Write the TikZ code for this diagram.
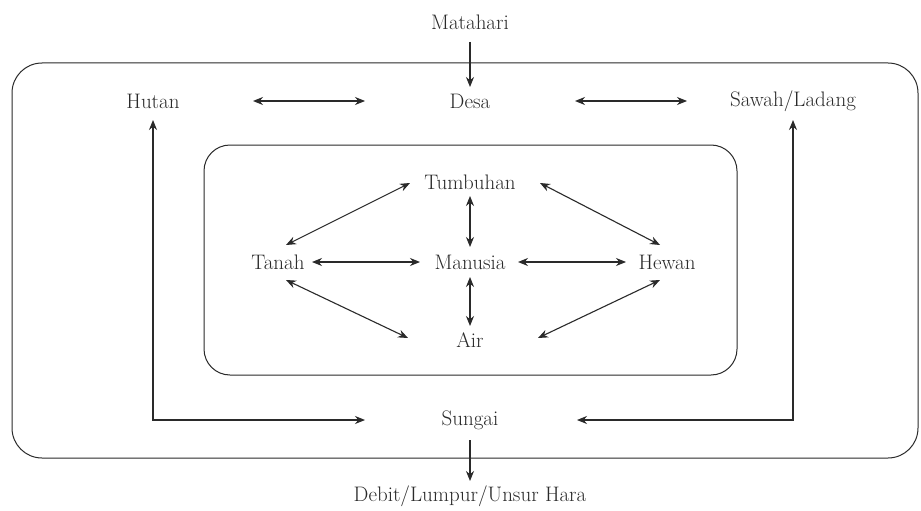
\documentclass[tikz,border=0pt]{standalone}
\usetikzlibrary{arrows.meta}
\definecolor{ink}{HTML}{2A2A2A}
\begin{document}
\begin{tikzpicture}[x=1pt,y=-1pt,
  lab/.style={font=\fontsize{21}{24}\selectfont, inner sep=0pt, text=ink},
  tip/.tip={Stealth[length=10pt,width=8pt]},
  dar/.style={{tip}-{tip}, line width=1.1pt, draw=ink},
  sar/.style={-{tip}, line width=1.1pt, draw=ink},
  box/.style={draw=ink, line width=1pt}]
\useasboundingbox (0,0) rectangle (921,511);
\fill[white] (0,0) rectangle (921,511);
\draw[box, rounded corners=30pt] (12,63) rectangle (918,458);
\draw[box, rounded corners=26pt] (204,145) rectangle (737,375);
% nodes
\node[lab] (mat) at (470,22) {Matahari};
\node[lab] (desa) at (470,101) {Desa};
\node[lab] (hutan) at (153,101) {Hutan};
\node[lab] (sawah) at (793,101) {Sawah/Ladang};
\node[lab] (tumb) at (470,182) {Tumbuhan};
\node[lab] (man) at (470,262) {Manusia};
\node[lab] (air) at (470,340) {Air};
\node[lab] (tanah) at (278,262) {Tanah};
\node[lab] (hewan) at (667,262) {Hewan};
\node[lab] (sungai) at (470,420) {Sungai};
\node[lab] (debit) at (470,496) {Debit/Lumpur/Unsur Hara};
% outer connectors
\draw[sar, shorten <=20pt, shorten >=14pt] (mat.center) -- (desa.center);
\draw[dar, shorten <=100pt, shorten >=105pt] (hutan.center) -- (desa.center);
\draw[dar, shorten <=105pt, shorten >=106pt] (desa.center) -- (sawah.center);
\draw[dar, shorten <=19pt, shorten >=105pt] (hutan.center) |- (sungai.center);
\draw[dar, shorten <=19pt, shorten >=107pt] (sawah.center) |- (sungai.center);
\draw[sar, shorten <=20pt, shorten >=15pt] (sungai.center) -- (debit.center);
% inner connectors
\draw[dar, shorten <=14pt, shorten >=15pt] (tumb.center) -- (man.center);
\draw[dar, shorten <=15pt, shorten >=14pt] (man.center) -- (air.center);
\draw[dar, shorten <=34pt, shorten >=50pt] (tanah.center) -- (man.center);
\draw[dar, shorten <=48pt, shorten >=41pt] (man.center) -- (hewan.center);
\draw[dar] ([xshift=8pt,yshift=17pt]tanah.center) -- ([xshift=-60pt,yshift=-1pt]tumb.center);
\draw[dar] ([xshift=70pt,yshift=-1pt]tumb.center) -- ([xshift=-7pt,yshift=17pt]hewan.center);
\draw[dar] ([xshift=8pt,yshift=-18pt]tanah.center) -- ([xshift=-62pt,yshift=2pt]air.center);
\draw[dar] ([xshift=68pt,yshift=2pt]air.center) -- ([xshift=-7pt,yshift=-18pt]hewan.center);
\end{tikzpicture}
\end{document}
